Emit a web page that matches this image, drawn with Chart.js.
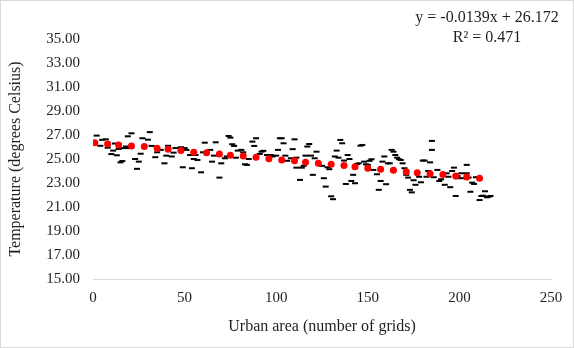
<!DOCTYPE html>
<html>
<head>
<meta charset="utf-8">
<script src="https://cdn.jsdelivr.net/npm/chart.js@4"></script>
<style>
  html, body { margin: 0; padding: 0; background: #fff; }
  #wrap { width: 574px; height: 348px; }
</style>
</head>
<body>
<div id="wrap"><canvas id="tempChart" width="574" height="348"></canvas></div>
<script>
'use strict'

// Observed temperature per urban area size (black dashes)
let dashX = [2,5,7,4,8,11,10,13,15,16,12,14,17,19,21,18,20,23,25,24,26,27,30,31,32,34,35,37,39,40,
  41,43,44,45,48,50,51,49,53,54,56,57,55,59,61,60,64,65,66,67,69,70,72,73,74,75,76,77,78,79,
  81,82,83,84,85,87,88,89,91,92,93,95,97,98,100,101,102,103,104,105,106,108,109,110,111,111,114,113,115,116,
  117,118,119,120,121,122,123,125,126,127,128,129,130,131,132,133,134,135,136,137,138,139,140,141,
  142,143,144,145,146,147,148,149,150,151,152,153,155,156,157,158,159,160,161,162,163,164,165,166,
  167,168,169,170,171,172,173,174,175,176,178,179,180,181,182,183,184,185,185,186,188,189,190,192,
  193,194,195,196,197,198,199,199,201,202,204,204,205,206,207,208,209,211,212,213,214,215,216,217]
let dashY = [26.95,26.60,26.64,26.10,25.94,25.70,25.41,25.31,24.72,24.83,26.29,25.84,25.91,26.89,27.14,26.04,25.91,25.00,24.78,24.18,
  25.44,26.73,26.61,27.24,26.09,25.15,25.56,25.76,24.64,25.28,
  26.10,25.21,25.53,25.91,25.98,25.91,25.76,24.31,25.33,24.23,25.33,24.92,25.00,23.89,26.36,25.56,25.76,24.78,25.28,26.39,
  23.45,24.64,25.06,25.21,26.92,26.78,26.23,26.09,25.11,25.70,
  25.76,25.56,24.56,24.51,25.00,26.45,26.09,26.73,25.42,25.61,25.68,25.33,25.33,25.21,25.28,25.76,26.73,26.73,26.31,25.28,
  24.85,25.06,25.82,26.64,24.28,25.11,24.28,23.26,24.43,25.28,
  26.04,26.25,25.28,23.68,25.06,25.61,24.64,24.43,23.40,22.70,24.31,24.15,21.89,21.65,25.21,25.70,25.11,26.59,26.31,24.87,
  22.92,25.33,25.00,23.17,
  23.68,22.98,24.58,24.64,26.11,26.17,24.78,24.56,24.51,24.85,24.98,24.09,23.73,22.43,23.17,24.78,25.21,22.90,24.64,24.64,
  25.76,25.61,25.33,25.11,
  24.98,24.92,24.64,24.23,23.68,23.45,22.43,22.22,23.23,22.85,23.52,23.06,24.87,24.87,23.52,24.00,24.72,26.51,25.76,23.48,
  24.09,23.17,23.31,22.85,
  23.81,23.52,22.65,24.00,24.28,21.92,23.40,23.58,23.81,23.40,23.81,24.51,23.45,22.27,23.03,22.92,23.48,21.58,21.92,21.94,
  22.31,21.81,21.86,21.92]

// Fitted values (red dots)
let fitX = [1,8,14,21,28,35,41,48,55,62,69,75,82,89,96,103,110,116,123,130,137,143,150,157,164,171,177,184,191,198,204,211]
let fitY = [26.36,26.25,26.17,26.09,26.04,25.90,25.82,25.70,25.56,25.53,25.42,25.31,25.25,25.15,25.03,24.92,
  24.85,24.73,24.64,24.57,24.46,24.36,24.23,24.15,24.07,23.94,23.86,23.78,23.70,23.58,23.49,23.40]

let yTicks = [15,17,19,21,23,25,27,29,31,33,35]
let eqLines = ['y = -0.0139x + 26.172', 'R\u00b2 = 0.471']

let serif = "'Liberation Serif', 'Times New Roman', serif"
let textColor = '#1f1f1f'

let dashPts = dashX.map((x, i) => ({x: x, y: dashY[i]}))
let fitPts = fitX.map((x, i) => ({x: x, y: fitY[i]}))

// equation label + light frame round the picture
let extras = {
  id: 'extras',
  afterDraw(chart) {
    let c = chart.ctx
    c.save()
    c.strokeStyle = '#d9d9d9'
    c.lineWidth = 1
    c.strokeRect(0.5, 0.5, chart.width - 1, chart.height - 1)
    c.fillStyle = textColor
    c.font = '16px ' + serif
    c.textAlign = 'center'
    c.textBaseline = 'middle'
    c.fillText(eqLines[0], 487, 18)
    c.fillText(eqLines[1], 487, 38)
    c.restore()
  }
}

let ctx = document.getElementById('tempChart').getContext('2d')

let tempChart = new Chart(ctx, {
  type: 'scatter',
  data: {
    datasets: [{
      label: 'Fitted',
      data: fitPts,
      pointStyle: 'circle',
      pointRadius: 3.5,
      pointBackgroundColor: '#ff0000',
      pointBorderColor: '#ff0000',
      pointBorderWidth: 0
    }, {
      label: 'Observed',
      data: dashPts,
      pointStyle: 'line',
      pointRadius: 3,
      pointBorderColor: '#000000',
      pointBorderWidth: 2
    }]
  },
  options: {
    responsive: false,
    animation: false,
    layout: { padding: { top: 39, right: 23, bottom: 0, left: 0 } },
    plugins: {
      legend: { display: false },
      tooltip: { enabled: false }
    },
    scales: {
      x: {
        type: 'linear',
        min: 0,
        max: 250,
        grid: { display: false, drawTicks: false },
        border: { display: true, color: '#d9d9d9', width: 1 },
        ticks: { stepSize: 50, padding: 10, color: textColor, font: { family: serif, size: 15 } },
        title: {
          display: true,
          text: 'Urban area (number of grids)',
          color: textColor,
          font: { family: serif, size: 16 },
          padding: { top: 4, bottom: 12 }
        },
        afterFit: (s) => { s.height = 69 }
      },
      y: {
        type: 'linear',
        min: 15,
        max: 35,
        afterBuildTicks: (s) => { s.ticks = yTicks.map(v => ({value: v})) },
        grid: { display: false, drawTicks: false },
        border: { display: false },
        ticks: {
          padding: 13,
          color: textColor,
          font: { family: serif, size: 15 },
          callback: (v) => Number(v).toFixed(2)
        },
        title: {
          display: true,
          text: 'Temperature (degrees Celsius)',
          color: textColor,
          font: { family: serif, size: 16 },
          padding: { top: 6, bottom: 0 }
        },
        afterFit: (s) => { s.width = 93 }
      }
    }
  },
  plugins: [extras]
})
</script>
</body>
</html>
